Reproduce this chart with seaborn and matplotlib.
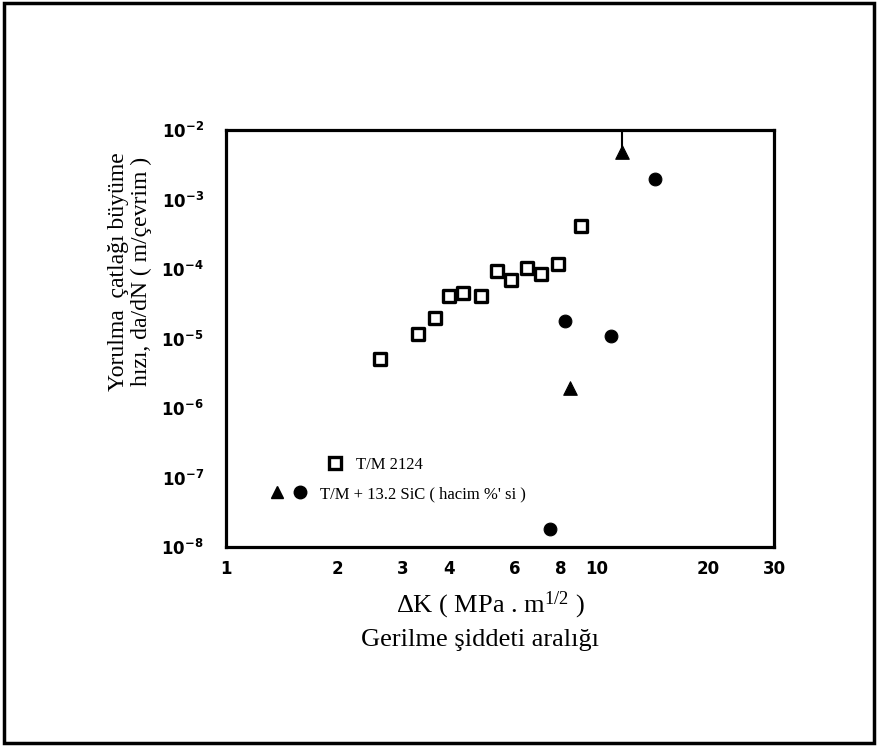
import numpy as np
import pandas as pd
import matplotlib
matplotlib.use('Agg')
import matplotlib.pyplot as plt
import seaborn as sns
from matplotlib.lines import Line2D
from matplotlib.patches import Rectangle
from matplotlib.legend_handler import HandlerTuple

sns.set_style('white')
plt.rcParams['font.family'] = ['Liberation Serif', 'DejaVu Serif']
plt.rcParams['mathtext.default'] = 'regular'
plt.rcParams['text.color'] = 'black'
plt.rcParams['xtick.color'] = 'black'
plt.rcParams['ytick.color'] = 'black'

# T/M 2124 (open squares)
dk_tm = [2.60, 3.29, 3.66, 3.99, 4.35, 4.87, 5.38, 5.86, 6.48, 7.06, 7.85, 9.05]
rate_tm = [5.0e-6, 1.15e-5, 1.95e-5, 4.1e-5, 4.5e-5, 4.1e-5,
           9.4e-5, 6.9e-5, 1.03e-4, 8.5e-5, 1.2e-4, 4.2e-4]

# T/M + 13.2 SiC, filled circles
dk_sic_c = [7.47, 8.2, 10.9, 14.3]
rate_sic_c = [1.8e-8, 1.8e-5, 1.1e-5, 2.0e-3]

# T/M + 13.2 SiC, filled triangles
dk_sic_t = [8.46, 11.7]
rate_sic_t = [1.95e-6, 4.8e-3]

xticks = [1, 2, 3, 4, 6, 8, 10, 20, 30]
xtick_labels = ['1', '2', '3', '4', '6', '8', '10', '20', '30']
yticks = [1e-8, 1e-7, 1e-6, 1e-5, 1e-4, 1e-3, 1e-2]
ytick_labels = [r'$10^{-8}$', r'$10^{-7}$', r'$10^{-6}$', r'$10^{-5}$',
                r'$10^{-4}$', r'$10^{-3}$', r'$10^{-2}$']

tm = pd.DataFrame({'dK': dk_tm, 'rate': rate_tm})
sic_c = pd.DataFrame({'dK': dk_sic_c, 'rate': rate_sic_c})
sic_t = pd.DataFrame({'dK': dk_sic_t, 'rate': rate_sic_t})

fig = plt.figure(figsize=(8.78, 7.47), dpi=100)
ax = fig.add_axes([0.2574, 0.2677, 0.6241, 0.5582])
ax.set_xscale('log')
ax.set_yscale('log')

sns.scatterplot(data=tm, x='dK', y='rate', marker='s', s=70,
                facecolor='white', edgecolor='black', linewidth=2.4, ax=ax)
sns.scatterplot(data=sic_c, x='dK', y='rate', marker='o', s=85,
                color='black', edgecolor='black', ax=ax)
sns.scatterplot(data=sic_t, x='dK', y='rate', marker='^', s=95,
                color='black', edgecolor='black', ax=ax)
# arrow-like stem above the top triangle
ax.vlines(dk_sic_t[1], rate_sic_t[1], 1e-2, color='black', lw=1.5)

ax.set_xlim(1, 30)
ax.set_ylim(1e-8, 1e-2)
ax.set_xticks(xticks)
ax.set_xticklabels(xtick_labels)
ax.set_xticks([5, 7, 9], minor=True)
ax.set_yticks(yticks)
ax.set_yticklabels(ytick_labels)
ax.yaxis.set_minor_locator(matplotlib.ticker.NullLocator())
ax.tick_params(axis='x', which='both', direction='in', length=4, width=1.5,
               pad=9, labelsize=12)
ax.tick_params(axis='y', which='major', direction='in', length=9, width=1.8,
               pad=16, labelsize=12)
for lab in ax.get_xticklabels() + ax.get_yticklabels():
    lab.set_family('DejaVu Sans')
    lab.set_fontweight('bold')
ax.set_xlabel('')
ax.set_ylabel('')
for sp in ax.spines.values():
    sp.set_linewidth(2.3)
    sp.set_color('black')

# legend, two separate rows as in the original
h_sq = Line2D([], [], marker='s', ls='none', mfc='white', mec='black',
              mew=2.4, ms=8)
h_tri = Line2D([], [], marker='^', ls='none', color='black', ms=9)
h_circ = Line2D([], [], marker='o', ls='none', color='black', ms=9)
leg1 = ax.legend([h_sq], ['T/M 2124'], loc='center left',
                 bbox_to_anchor=(0.186, 0.197), frameon=False, fontsize=12,
                 handlelength=0.9, handletextpad=0.8, borderpad=0,
                 borderaxespad=0)
ax.add_artist(leg1)
ax.legend([(h_tri, h_circ)], ["T/M + 13.2 SiC ( hacim %' si )"],
          handler_map={tuple: HandlerTuple(ndivide=None, pad=0.6)},
          loc='center left', bbox_to_anchor=(0.080, 0.127), frameon=False,
          fontsize=12, handlelength=2.2, handletextpad=0.8, borderpad=0,
          borderaxespad=0)

fig.text(0.148, 0.636, 'Yorulma  çatlağı büyüme\nhızı, da/dN ( m/çevrim )',
         rotation=90, ha='center', va='center', fontsize=17,
         linespacing=1.1)
fig.text(490 / 878, 1 - 605 / 747, r'ΔK ( MPa . m$^{1/2}$ )',
         ha='center', va='center', fontsize=19)
fig.text(480 / 878, 1 - 640 / 747, 'Gerilme şiddeti aralığı',
         ha='center', va='center', fontsize=19)

fig.patches.append(Rectangle((0.004, 0.005), 0.992, 0.991,
                             transform=fig.transFigure, fill=False,
                             lw=2.5, edgecolor='black'))

fig.savefig('out.png', dpi=100, facecolor='white')
